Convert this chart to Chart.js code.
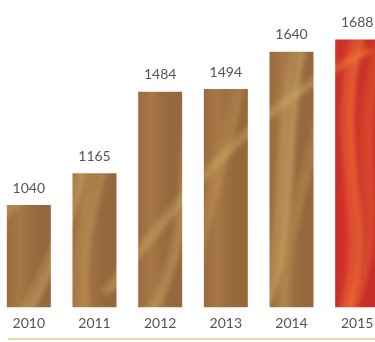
<!DOCTYPE html>
<html>
<head>
<meta charset="utf-8">
<script src="https://cdn.jsdelivr.net/npm/chart.js@4"></script>
<style>
html,body{margin:0;padding:0;background:#fff;overflow:hidden;}
#wrap{width:375px;height:342px;position:relative;overflow:hidden;}
#c{position:absolute;left:-4px;top:0;}
</style>
</head>
<body>
<div id="wrap"><canvas id="c" width="394" height="342"></canvas></div>
<script>
const years = ["2010", "2011", "2012", "2013", "2014", "2015"];
const values = [1040, 1165, 1484, 1494, 1640, 1688];
const highlightYear = "2015";

function makeTexture(base, dark, light, glow) {
  const raw = document.createElement('canvas');
  raw.width = 420; raw.height = 360;
  const g = raw.getContext('2d');
  g.fillStyle = base; g.fillRect(0, 0, 420, 360);
  for (let x = 0; x < 420; x += 66) {
    const lg = g.createLinearGradient(x, 0, x + 66, 0);
    lg.addColorStop(0, dark); lg.addColorStop(0.5, 'rgba(0,0,0,0)'); lg.addColorStop(1, dark);
    g.fillStyle = lg; g.fillRect(x, 0, 66, 360);
  }
  g.lineCap = 'round';
  const curves = [
    [-20, 340, 40, 200, 10, 100, 60, -10],
    [30, 342, 80, 240, 120, 160, 90, 20],
    [100, 342, 70, 220, 160, 120, 140, -10],
    [150, 342, 220, 250, 180, 130, 230, 0],
    [210, 342, 190, 230, 270, 150, 250, 10],
    [260, 342, 320, 260, 280, 120, 330, 0],
    [300, 342, 280, 230, 360, 130, 340, -10],
    [350, 342, 400, 230, 330, 160, 380, 20],
    [-10, 250, 60, 180, 120, 90, 200, 30],
    [120, 300, 200, 200, 260, 120, 380, 60],
    [340, 360, 420, 250, 350, 150, 400, 40],
    [20, 200, 70, 120, 40, 60, 80, 0]
  ];
  curves.forEach((c, i) => {
    g.strokeStyle = i % 2 ? light : glow;
    g.lineWidth = 8 + (i % 3) * 4;
    g.globalAlpha = 0.3;
    g.beginPath(); g.moveTo(c[0], c[1]); g.bezierCurveTo(c[2], c[3], c[4], c[5], c[6], c[7]); g.stroke();
    g.lineWidth = 3; g.globalAlpha = 0.45;
    g.beginPath(); g.moveTo(c[0] + 5, c[1]); g.bezierCurveTo(c[2] + 5, c[3], c[4] + 5, c[5], c[6] + 5, c[7]); g.stroke();
  });
  g.globalAlpha = 1;
  const cv = document.createElement('canvas');
  cv.width = 400; cv.height = 342;
  const h = cv.getContext('2d');
  h.filter = 'blur(2.5px)';
  h.drawImage(raw, -10, -9);
  return cv;
}

const ctx = document.getElementById('c').getContext('2d');
const brownPat = ctx.createPattern(makeTexture('rgb(170,121,70)', 'rgba(118,76,44,0.35)', 'rgb(214,182,112)', 'rgb(198,156,90)'), 'repeat');
const redPat = ctx.createPattern(makeTexture('rgb(220,52,44)', 'rgba(190,35,35,0.35)', 'rgb(246,150,60)', 'rgb(238,112,52)'), 'repeat');

const labelsPlugin = {
  id: 'valueLabels',
  afterDatasetsDraw(chart) {
    const c = chart.ctx;
    const meta = chart.getDatasetMeta(0);
    c.save();
    c.font = '14px Lato, "Open Sans", sans-serif';
    c.fillStyle = '#555555';
    c.textAlign = 'center';
    c.textBaseline = 'bottom';
    meta.data.forEach((bar, i) => {
      c.fillText(String(values[i]), bar.x, bar.y - 10);
    });
    c.restore();
  },
  afterDraw(chart) {
    const c = chart.ctx;
    c.save();
    c.strokeStyle = '#f4d5aa';
    c.lineWidth = 2;
    c.beginPath();
    c.moveTo(12, 339); c.lineTo(394, 339);
    c.stroke();
    c.restore();
  }
};

new Chart(ctx, {
  type: 'bar',
  data: {
    labels: years,
    datasets: [{
      data: values,
      backgroundColor: years.map(y => y === highlightYear ? redPat : brownPat),
      borderWidth: 0,
      barPercentage: 0.67,
      categoryPercentage: 1.0
    }]
  },
  options: {
    responsive: false,
    animation: false,
    layout: { padding: { left: 0, right: 0, top: 0, bottom: 2 } },
    plugins: { legend: { display: false }, tooltip: { enabled: false } },
    scales: {
      x: {
        grid: { display: false, drawTicks: false },
        border: { display: false },
        ticks: { color: '#555555', font: { family: 'Lato, "Open Sans", sans-serif', size: 14 }, padding: 8 }
      },
      y: {
        display: false,
        min: 640,
        max: 1843
      }
    }
  },
  plugins: [labelsPlugin]
});
</script>
</body>
</html>
